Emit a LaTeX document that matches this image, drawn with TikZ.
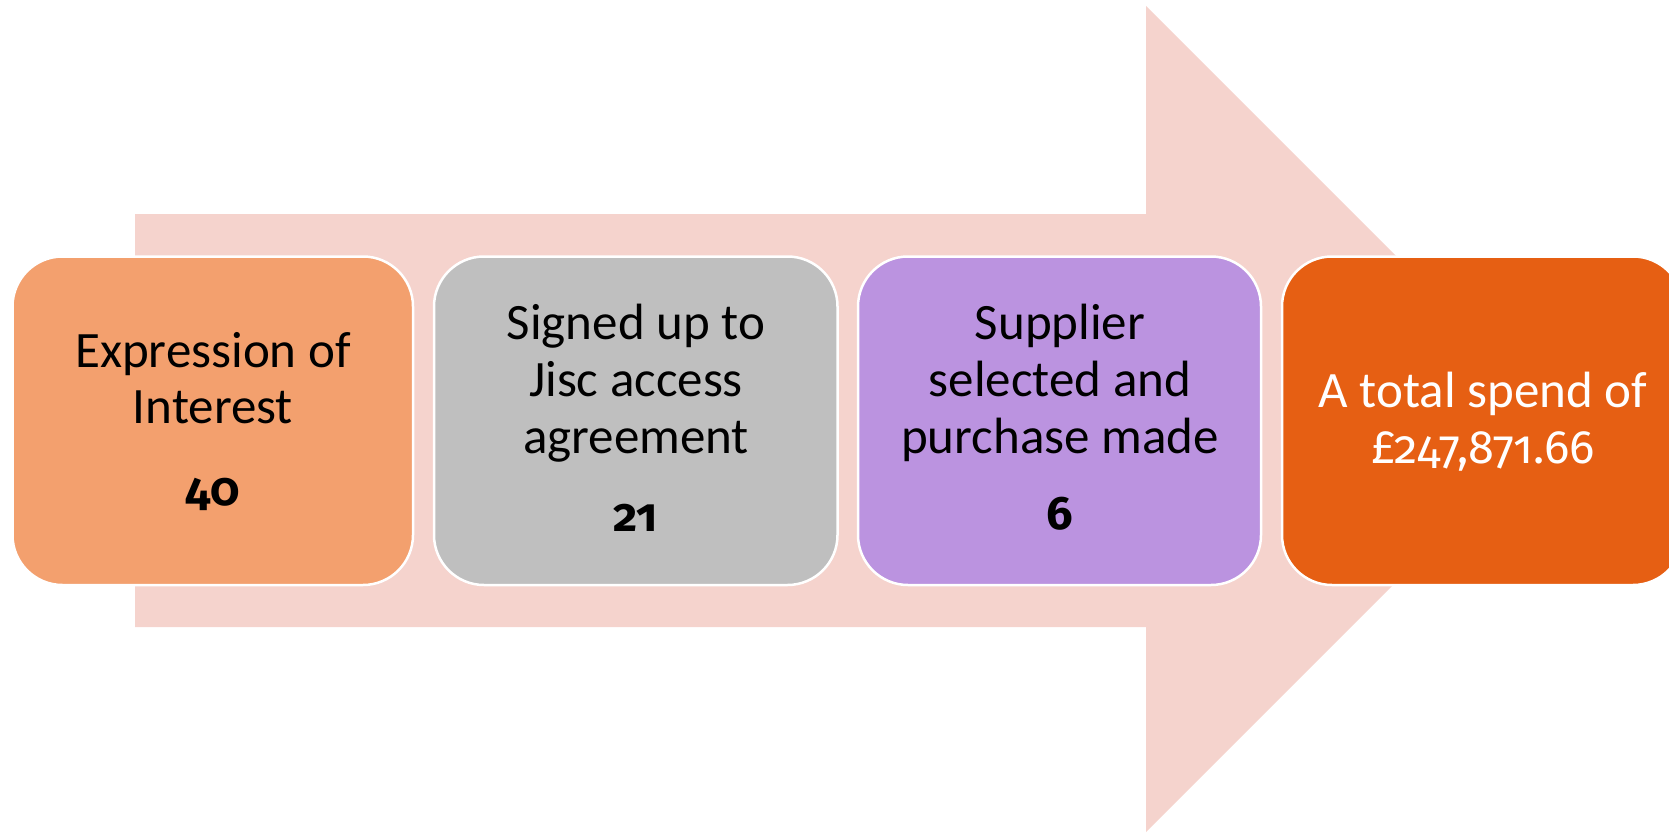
\documentclass[tikz,border=0pt]{standalone}
\usepackage{fontspec}
\setmainfont{Carlito}
\newfontfamily\oldnum{Fira Sans}[Numbers=OldStyle, Scale=0.92]
\definecolor{arrowpink}{HTML}{F5D3CD}
\definecolor{boxorange}{HTML}{F3A06E}
\definecolor{boxgrey}{HTML}{BFBFBF}
\definecolor{boxpurple}{HTML}{BB93E0}
\definecolor{boxdark}{HTML}{E65F13}
\tikzset{
  stagebox/.style={draw=white, line width=2.5pt, rounded corners=50pt},
  lbl/.style={anchor=base, inner sep=0pt, font=\fontsize{51}{57}\selectfont},
  num/.style={anchor=base, inner sep=0pt, font=\oldnum\fontsize{51}{57}\selectfont\bfseries},
  amount/.style={anchor=base, inner sep=0pt, font=\oldnum\fontsize{51}{57}\selectfont},
}
\begin{document}
\begin{tikzpicture}[x=1pt,y=-1pt]
\useasboundingbox (0,0) rectangle (1669,832);
\clip (0,0) rectangle (1669,832);
% big arrow
\fill[arrowpink] (135,214) -- (1146,214) -- (1146,6) -- (1559,419) -- (1146,832) -- (1146,627) -- (135,627) -- cycle;
% boxes
\path[stagebox, fill=boxorange] (12.5,256.5) rectangle (413,585);
\path[stagebox, fill=boxgrey] (434,256.5) rectangle (837.5,585);
\path[stagebox, fill=boxpurple] (858,256.5) rectangle (1261,585);
\path[stagebox, fill=boxdark] (1282,256.5) rectangle (1683,585);
% box 1
\node[lbl] (a1) at (213,367) {Expression of};
\node[lbl] (a2) at (213,423) {Interest};
\node[num] (an) at (213,505) {40};
% box 2
\node[lbl] (b1) at (636,339) {Signed up to};
\node[lbl] (b2) at (636,396) {Jisc access};
\node[lbl] (b3) at (636,453) {agreement};
\node[num] (bn) at (636,531) {21};
% box 3
\node[lbl] (c1) at (1060,339) {Supplier};
\node[lbl] (c2) at (1060,396) {selected and};
\node[lbl] (c3) at (1060,453) {purchase made};
\node[num] (cn) at (1060,529) {6};
% box 4
\node[lbl, text=white] (d1) at (1483,407) {A total spend of};
\node[amount, text=white] (d2) at (1483,463) {£247,871.66};
\end{tikzpicture}
\end{document}
